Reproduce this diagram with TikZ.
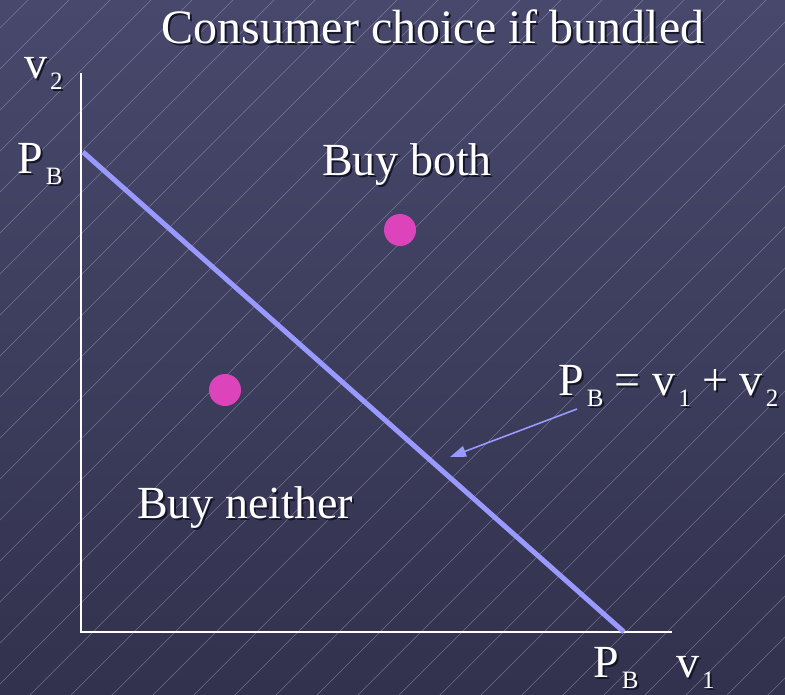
\documentclass[tikz,border=0pt]{standalone}
\usepackage{fontspec}
\setmainfont{Liberation Serif}
\usetikzlibrary{arrows.meta}
\definecolor{bgtop}{HTML}{48486C}
\definecolor{bgbot}{HTML}{32324E}
\definecolor{hatch}{HTML}{A8A8C8}
\definecolor{budget}{HTML}{9999FF}
\definecolor{dotc}{HTML}{DD44BB}
\definecolor{shadowc}{HTML}{15152A}
\newcommand\lsub[1]{\kern3pt\raisebox{-11pt}{\fontsize{25}{25}\selectfont #1}}
\newcommand\shtext[1]{\rlap{\kern2pt\raisebox{-2pt}{\color{shadowc}#1}}#1}
\tikzset{
  txt/.style={text=white,inner sep=0pt,font=\fontsize{46}{46}\selectfont},
  ttl/.style={text=white,inner sep=0pt,font=\fontsize{48}{48}\selectfont},
  axis/.style={white,line width=1.6pt},
  budgetline/.style={budget,line width=5pt},
  pointer/.style={budget,line width=1.6pt,-{Triangle[length=16pt,width=11pt]}},
  consumer/.style={circle,fill=dotc,minimum size=32pt,inner sep=0pt},
  hatchline/.style={hatch,line width=0.6pt,opacity=0.5}
}
\begin{document}
\begin{tikzpicture}[x=1pt,y=-1pt]
  \useasboundingbox (0,0) rectangle (785,694);
  \shade[top color=bgtop,bottom color=bgbot] (0,0) rectangle (785,694);
  \begin{scope}
    \clip (0,0) rectangle (785,694);
    \foreach \k in {-10,...,28} {
      \draw[hatchline] ({397+41*\k-700},700) -- ({397+41*\k+10},-10);
    }
  \end{scope}

  % axes
  \coordinate (origin) at (81,632);
  \coordinate (ytop) at (81,73);
  \coordinate (xend) at (672,632);
  \draw[axis] (ytop) -- (origin) -- (xend);

  % budget line
  \coordinate (pby) at (83,152);
  \coordinate (pbx) at (624,632);
  \draw[budgetline] (pby) -- (pbx);

  % consumers
  \node[consumer] (c1) at (400,230) {};
  \node[consumer] (c2) at (225,390) {};

  % labels
  \node[ttl,anchor=base] (title) at (433,43) {\shtext{Consumer choice if bundled}};
  \node[txt,anchor=base west] (v2) at (24,78) {\shtext{v\lsub{2}}};
  \node[txt,anchor=base west] (pbleft) at (17,173) {\shtext{P\lsub{B}}};
  \node[txt,anchor=base] (both) at (407,175) {\shtext{Buy both}};
  \node[txt,anchor=base] (neither) at (245,518) {\shtext{Buy neither}};
  \node[txt,anchor=base west] (eq) at (558,395) {\shtext{P\lsub{B} = v\lsub{1} + v\lsub{2}}};
  \node[txt,anchor=base west] (pbbottom) at (593,677) {\shtext{P\lsub{B}}};
  \node[txt,anchor=base west] (v1) at (676,677) {\shtext{v\lsub{1}}};

  % pointer
  \coordinate (arrstart) at (577,409);
  \coordinate (arrtip) at (450,457);
  \draw[pointer] (arrstart) -- (arrtip);
\end{tikzpicture}
\end{document}
